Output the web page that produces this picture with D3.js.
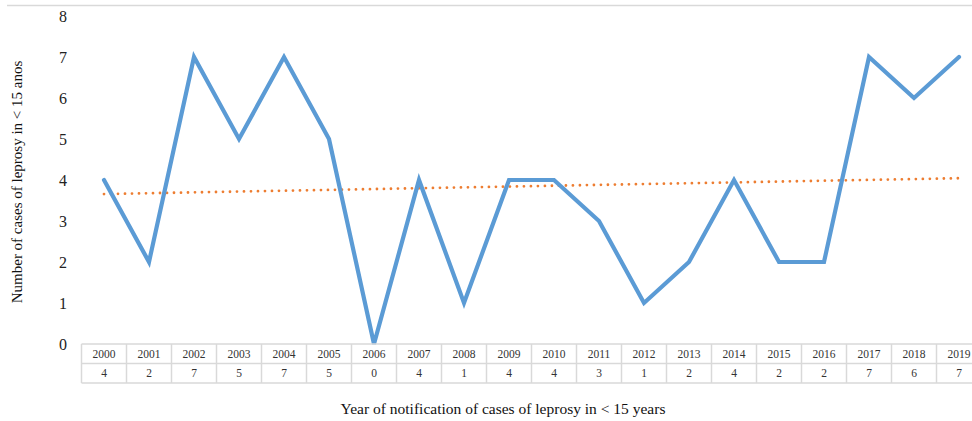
<!DOCTYPE html>
<html>
<head>
<meta charset="utf-8">
<script src="https://cdn.jsdelivr.net/npm/d3@7"></script>
<style>
  body { margin: 0; background: #fff; }
  svg { display: block; }
  svg text { font-family: "Liberation Serif", "Times New Roman", serif; }
</style>
</head>
<body>
<svg id="chart" width="972" height="421"></svg>
<script>
const years = ['2000','2001','2002','2003','2004','2005','2006','2007','2008','2009',
               '2010','2011','2012','2013','2014','2015','2016','2017','2018','2019'];
const cases = [4,2,7,5,7,5,0,4,1,4,4,3,1,2,4,2,2,7,6,7];
const yTicks = [0,1,2,3,4,5,6,7,8];

const svg = d3.select('#chart');

const colW = 45;
const left = 81.5;
const x = d3.scaleBand().domain(years).range([left, left + colW * years.length]);
const y = d3.scaleLinear().domain([0, 8]).range([344, 16]);

// chart border (only the top edge shows)
svg.append('line')
  .attr('x1', 7).attr('x2', 972).attr('y1', 5.5).attr('y2', 5.5)
  .attr('stroke', '#d9d9d9').attr('stroke-width', 1.5);

// y axis labels
const yAxis = d3.axisLeft(y).tickValues(yTicks).tickSize(0).tickPadding(0);
const yg = svg.append('g').attr('transform', 'translate(67,0)').call(yAxis);
yg.select('.domain').remove();
yg.selectAll('text')
  .style('font-family', '"Liberation Serif", serif')
  .style('font-size', '16px')
  .attr('fill', '#222');

// linear trend line
const xi = d3.range(cases.length);
const mx = d3.mean(xi), my = d3.mean(cases);
const slope = d3.sum(xi, i => (i - mx) * (cases[i] - my)) / d3.sum(xi, i => (i - mx) ** 2);
const icpt = my - slope * mx;
const cx = d => x(d) + x.bandwidth() / 2;

svg.append('line')
  .attr('x1', cx(years[0])).attr('y1', y(icpt))
  .attr('x2', cx(years[years.length - 1])).attr('y2', y(icpt + slope * (years.length - 1)))
  .attr('stroke', '#ed7d31')
  .attr('stroke-width', 2.8)
  .attr('stroke-linecap', 'round')
  .attr('stroke-dasharray', '0,7');

// data line
const line = d3.line().x((d, i) => cx(years[i])).y(d => y(d));
svg.append('path')
  .datum(cases)
  .attr('d', line)
  .attr('fill', 'none')
  .attr('stroke', '#5b9bd5')
  .attr('stroke-width', 4.2)
  .attr('stroke-linejoin', 'miter')
  .attr('stroke-linecap', 'round');

// data table
const tTop = 344, rowH = 19.5;
const table = svg.append('g');
[0, 1, 2].forEach(r => {
  table.append('line')
    .attr('x1', left).attr('x2', x.range()[1])
    .attr('y1', tTop + rowH * r).attr('y2', tTop + rowH * r)
    .attr('stroke', '#d9d9d9').attr('stroke-width', 1.5);
});
table.selectAll('.vline')
  .data(years.concat(['end']))
  .enter().append('line')
  .attr('class', 'vline')
  .attr('x1', (d, i) => left + i * colW).attr('x2', (d, i) => left + i * colW)
  .attr('y1', tTop).attr('y2', tTop + rowH * 2)
  .attr('stroke', '#d9d9d9').attr('stroke-width', 1.5);

table.selectAll('.yr')
  .data(years)
  .enter().append('text')
  .attr('class', 'yr')
  .attr('x', d => cx(d))
  .attr('y', tTop + rowH / 2 + 4)
  .attr('text-anchor', 'middle')
  .style('font-size', '11.5px')
  .attr('fill', '#333')
  .text(d => d);

table.selectAll('.val')
  .data(cases)
  .enter().append('text')
  .attr('class', 'val')
  .attr('x', (d, i) => cx(years[i]))
  .attr('y', tTop + rowH * 1.5 + 4)
  .attr('text-anchor', 'middle')
  .style('font-size', '11.5px')
  .attr('fill', '#333')
  .text(d => d);

// axis titles
svg.append('text')
  .attr('transform', 'translate(22,182) rotate(-90)')
  .attr('text-anchor', 'middle')
  .style('font-size', '15px')
  .attr('fill', '#111')
  .text('Number of cases of leprosy in < 15 anos');

svg.append('text')
  .attr('x', 503)
  .attr('y', 414)
  .attr('text-anchor', 'middle')
  .style('font-size', '15.5px')
  .attr('fill', '#111')
  .text('Year of notification of cases of leprosy in < 15 years');
</script>
</body>
</html>
